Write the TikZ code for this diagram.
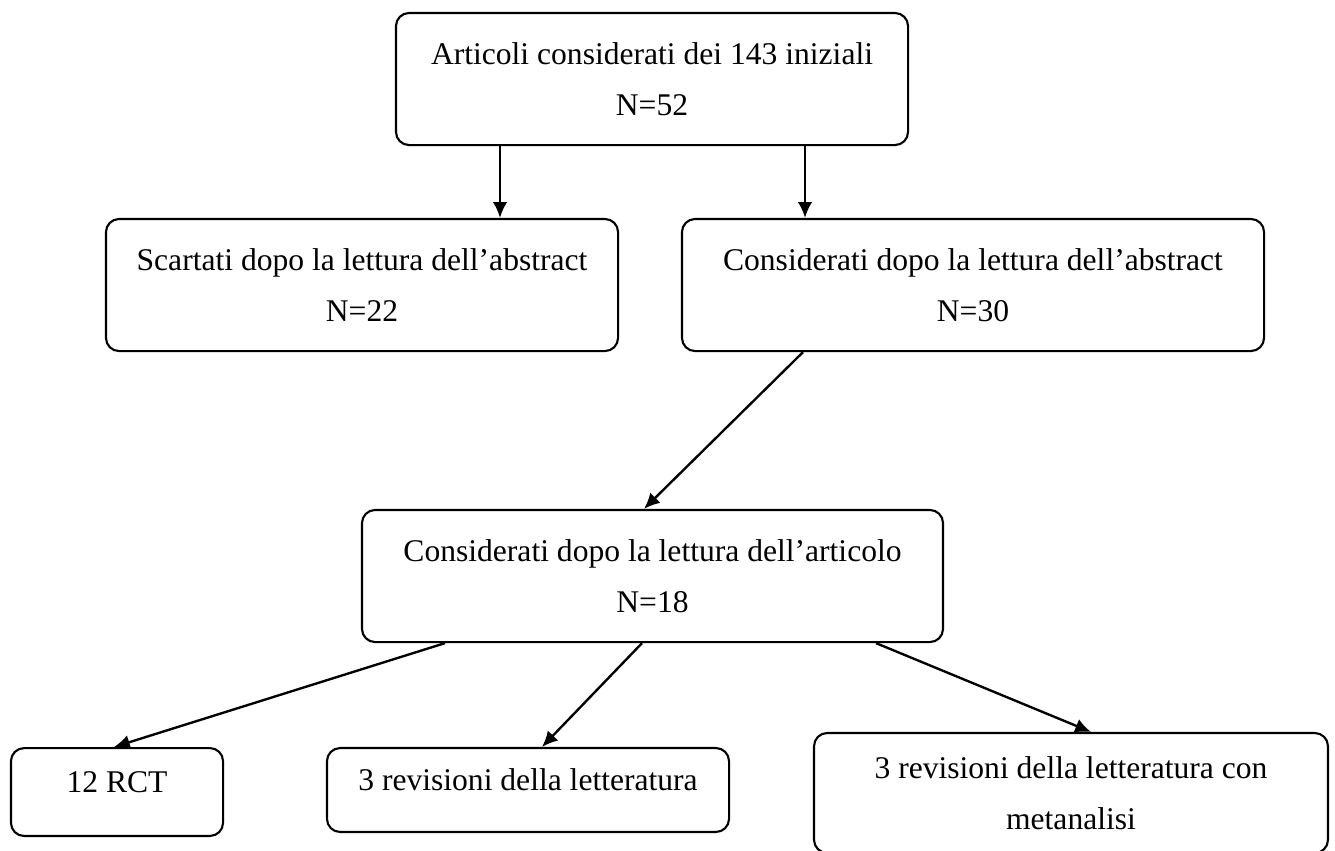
\documentclass[tikz,border=0pt]{standalone}
\usepackage{fontspec}
\setmainfont{Liberation Serif}
\usepackage{tikz}
\usetikzlibrary{arrows.meta}

\begin{document}
\begin{tikzpicture}[x=0.38pt, y=-0.38pt,
  box/.style={draw, line width=0.8pt, rounded corners=5pt, align=center,
    font=\fontsize{12}{19.5}\selectfont, inner sep=0pt},
  arr/.style={-{Latex[length=6pt,width=5.5pt]}, line width=0.9pt}]

\useasboundingbox (0,0) rectangle (1335,850);

% Boxes
\node[box, minimum width=194.6pt, minimum height=50.2pt] (art) at (652,79) {Articoli considerati dei 143 iniziali\\N=52};
\node[box, minimum width=194.6pt, minimum height=50.2pt] (scart) at (362,285) {Scartati dopo la lettura dell’abstract\\N=22};
\node[box, minimum width=221.2pt, minimum height=50.2pt] (consabs) at (973,285) {Considerati dopo la lettura dell’abstract\\N=30};
\node[box, minimum width=220.8pt, minimum height=50.2pt] (cart) at (652.5,576) {Considerati dopo la lettura dell’articolo\\N=18};
\node[box, minimum width=80.6pt, minimum height=33.4pt, text height=8pt, text depth=8pt] (rct) at (117,792) {12 RCT};
\node[box, minimum width=152.8pt, minimum height=31.9pt, text height=8pt, text depth=8pt] (rev) at (528,790) {3 revisioni della letteratura};
\node[box, minimum width=195.3pt, minimum height=45.6pt] (meta) at (1071,793) {3 revisioni della letteratura con\\metanalisi};

% Arrows
\draw[arr] (art.south -| 500,0) -- (scart.north -| 500,0);
\draw[arr] (art.south -| 805,0) -- (consabs.north -| 805,0);
\draw[arr] (consabs.south -| 803,0) -- (cart.north -| 644,0);
\draw[arr] (cart.south -| 445,0) -- (rct.north -| 114,0);
\draw[arr] (cart.south -| 642,0) -- (rev.north -| 542,0);
\draw[arr] (cart.south -| 876,0) -- (meta.north -| 1091,0);

\end{tikzpicture}
\end{document}
